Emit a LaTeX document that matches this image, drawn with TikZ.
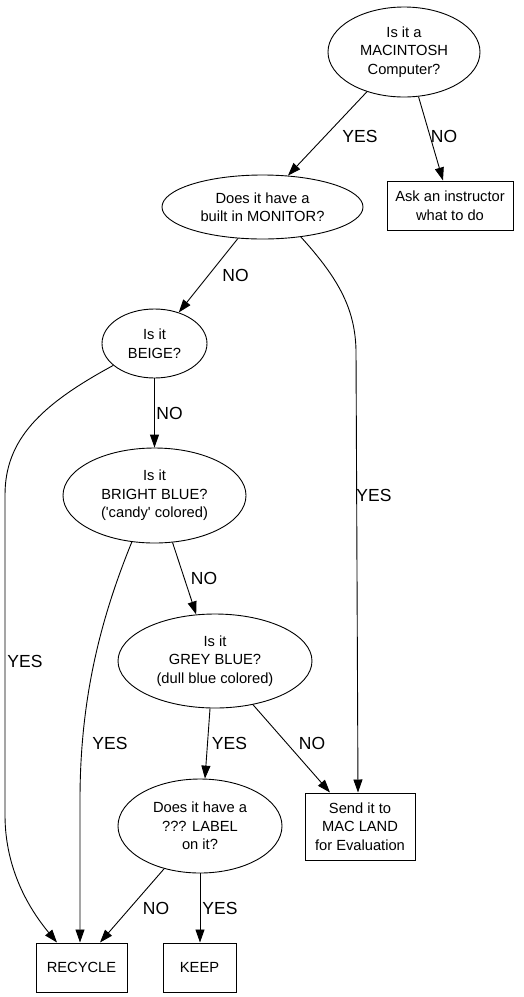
\documentclass[tikz,border=0pt]{standalone}
\usepackage{fontspec}
\setmainfont{Liberation Sans}
\usetikzlibrary{shapes.geometric,arrows.meta}
\begin{document}
\begin{tikzpicture}[x=1pt,y=-1pt,
  q/.style={draw,ellipse,inner sep=0pt,align=center,line width=0.9pt,
    font=\fontsize{14.7}{18.5}\selectfont},
  box/.style={draw,rectangle,inner sep=0pt,align=center,line width=1pt,
    font=\fontsize{14.7}{18.5}\selectfont},
  arr/.style={line width=0.9pt,-{Triangle[length=13pt,width=9pt]}},
  lbl/.style={font=\fontsize{17.5}{20}\selectfont,inner sep=0pt}]
\useasboundingbox (0,0) rectangle (523,997);
\node[q,minimum width=152pt,minimum height=90pt] (mac) at (404,52) {Is it a\\MACINTOSH\\Computer?};
\node[box,minimum width=126pt,minimum height=49pt] (ask) at (450,205.5) {Ask an instructor\\what to do};
\node[q,minimum width=201pt,minimum height=64pt] (monitor) at (262.5,207) {Does it have a\\built in MONITOR?};
\node[q,minimum width=105pt,minimum height=69pt] (beige) at (154.5,343.5) {Is it\\BEIGE?};
\node[q,minimum width=183pt,minimum height=95pt] (bright) at (154.5,495.5) {Is it\\BRIGHT BLUE?\\(\textquotesingle candy\textquotesingle\ colored)};
\node[q,minimum width=194pt,minimum height=94pt] (grey) at (215,661) {Is it\\GREY BLUE?\\(dull blue colored)};
\node[q,minimum width=164pt,minimum height=94pt] (label) at (200,826) {Does it have a\\??? LABEL\\on it?};
\node[box,minimum width=110pt,minimum height=67pt] (send) at (360,826.5) {Send it to\\MAC LAND\\for Evaluation};
\node[box,minimum width=91pt,minimum height=49pt] (recycle) at (81.5,967.5) {RECYCLE};
\node[box,minimum width=73pt,minimum height=49pt] (keep) at (199.5,967.5) {KEEP};

\draw[arr] (mac.227) -- (monitor.51) node[lbl] at (360,136) {YES};
\draw[arr] (mac.-72) -- ([xshift=-7pt]ask.north) node[lbl] at (444,136) {NO};
\draw[arr] (monitor.-128.5) -- (beige.52.7) node[lbl] at (235.5,275) {NO};
\draw[arr] (monitor.-38) .. controls (340,280) and (355,310) .. (356,350) -- ([xshift=-2pt]send.north)
  node[lbl] at (374,495) {YES};
\draw[arr] (beige.south) -- (bright.north) node[lbl] at (169.5,413) {NO};
\draw[arr] (beige.208) .. controls (40,405) and (5,440) .. (5,495) -- (5,815)
  .. controls (5,870) and (30,910) .. ([xshift=-24.5pt]recycle.north)
  node[lbl] at (25,661) {YES};
\draw[arr] (bright.-69.4) -- (grey.112) node[lbl] at (204,578) {NO};
\draw[arr] (bright.-116.3) .. controls (100,620) and (80,700) .. (80,800) -- ([xshift=-1.5pt]recycle.north)
  node[lbl] at (110,743) {YES};
\draw[arr] (grey.-96.2) -- (label.84) node[lbl] at (229.5,743) {YES};
\draw[arr] (grey.-49.2) -- ([xshift=-30pt]send.north) node[lbl] at (312,743) {NO};
\draw[arr] (label.-130) -- ([xshift=18.5pt]recycle.north) node[lbl] at (156,908) {NO};
\draw[arr] (label.south) -- ([xshift=0.5pt]keep.north) node[lbl] at (220,908) {YES};
\end{tikzpicture}
\end{document}
